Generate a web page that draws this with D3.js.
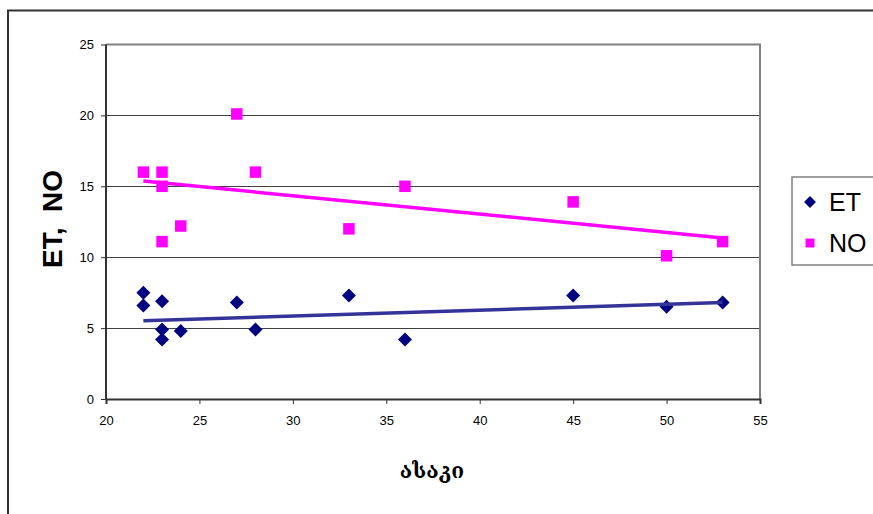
<!DOCTYPE html>
<html>
<head>
<meta charset="utf-8">
<script src="https://cdn.jsdelivr.net/npm/d3@7"></script>
<style>
  html, body { margin: 0; padding: 0; background: #fff; }
  svg { display: block; }
  .tick text { font-family: "Liberation Sans", Arial, sans-serif; font-size: 13px; fill: #000; }
</style>
</head>
<body>
<div id="chart"></div>
<script>
// ET / NO vs age (ასაკი)
const etAge = [22, 22, 23, 23, 23, 24, 27, 28, 33, 36, 45, 50, 53];
const etVal = [7.5, 6.6, 6.9, 4.9, 4.2, 4.8, 6.8, 4.9, 7.3, 4.2, 7.3, 6.5, 6.8];
const noAge = [22, 23, 23, 23, 24, 27, 28, 33, 36, 45, 50, 53];
const noVal = [16, 16, 15, 11.1, 12.2, 20.1, 16, 12, 15, 13.9, 10.1, 11.1];

// linear trend endpoints
const trendAge = [22, 53];
const etTrend = [5.51, 6.81];
const noTrend = [15.37, 11.36];

const xTicks = [20, 25, 30, 35, 40, 45, 50, 55];
const yTicks = [0, 5, 10, 15, 20, 25];

const W = 873, H = 514;
const P = { left: 106, right: 760, top: 44.5, bottom: 399 };

const svg = d3.select('#chart').append('svg').attr('width', W).attr('height', H);

// outer chart frame (runs off the page on the right and bottom)
svg.append('rect').attr('x', 8).attr('y', 10.5).attr('width', 1000).attr('height', 1000)
  .attr('fill', 'none').attr('stroke', '#333').attr('stroke-width', 2);

const x = d3.scaleLinear().domain([20, 55]).range([P.left, P.right]);
const y = d3.scaleLinear().domain([0, 25]).range([P.bottom, P.top]);

// gridlines
svg.append('g').selectAll('line').data(yTicks.filter(d => d > 0 && d < 25)).join('line')
  .attr('x1', P.left).attr('x2', P.right)
  .attr('y1', d => Math.round(y(d)) + 0.5).attr('y2', d => Math.round(y(d)) + 0.5)
  .attr('stroke', '#404040').attr('stroke-width', 1);

// plot area border (top, right)
svg.append('path')
  .attr('d', `M${P.left},${y(25)}H${P.right}V${P.bottom}`)
  .attr('fill', 'none').attr('stroke', '#808080').attr('stroke-width', 2);

// axes
const xAxis = svg.append('g').attr('transform', `translate(0,${P.bottom})`)
  .call(d3.axisBottom(x).tickValues(xTicks).tickSize(5).tickPadding(12));
const yAxis = svg.append('g').attr('transform', `translate(${P.left},0)`)
  .call(d3.axisLeft(y).tickValues(yTicks).tickSize(5).tickPadding(7));
[xAxis, yAxis].forEach(g => {
  g.select('.domain').attr('stroke', '#333').attr('stroke-width', 2);
  g.selectAll('.tick line').attr('stroke', '#333').attr('stroke-width', 1);
  g.attr('font-family', null).attr('font-size', null);
});
yAxis.select('.domain').attr('d', `M0,${P.bottom}V${P.top}`);

// markers
const sq = d3.symbol().type(d3.symbolSquare);
const etData = etAge.map((a, i) => ({ a, v: etVal[i] }));
const noData = noAge.map((a, i) => ({ a, v: noVal[i] }));

svg.append('g').selectAll('path').data(noData).join('path')
  .attr('d', sq.size(132)())
  .attr('transform', d => `translate(${x(d.a)},${y(d.v)})`)
  .attr('fill', '#ff00ff');

svg.append('g').selectAll('path').data(etData).join('path')
  .attr('d', sq.size(98)())
  .attr('transform', d => `translate(${x(d.a)},${y(d.v)}) rotate(45)`)
  .attr('fill', '#000080');

// trend lines
const line = d3.line().x(d => x(d[0])).y(d => y(d[1]));
svg.append('path').datum(trendAge.map((a, i) => [a, noTrend[i]]))
  .attr('d', line).attr('stroke', '#ff00ff').attr('stroke-width', 3.5).attr('fill', 'none');
svg.append('path').datum(trendAge.map((a, i) => [a, etTrend[i]]))
  .attr('d', line).attr('stroke', '#333399').attr('stroke-width', 3.5).attr('fill', 'none');

// axis titles
svg.append('text').attr('x', 432).attr('y', 478).attr('text-anchor', 'middle')
  .style('font-family', '"DejaVu Serif", "DejaVu Sans", serif').style('font-weight', 'bold')
  .style('font-size', '21px').text('ასაკი');

svg.append('text').attr('transform', 'translate(62,219) rotate(-90)').attr('text-anchor', 'middle')
  .style('font-family', '"Liberation Sans", Arial, sans-serif').style('font-weight', 'bold')
  .style('font-size', '28px').attr('xml:space', 'preserve').text('ET,  NO');

// legend
const lg = svg.append('g');
lg.append('rect').attr('x', 792).attr('y', 177).attr('width', 100).attr('height', 88)
  .attr('fill', '#fff').attr('stroke', '#808080').attr('stroke-width', 1.5);
const legendItems = [
  { name: 'ET', color: '#000080', diamond: true },
  { name: 'NO', color: '#ff00ff', diamond: false }
];
const ly = d3.scalePoint().domain(legendItems.map(d => d.name)).range([202, 243]);
const li = lg.selectAll('g').data(legendItems).join('g')
  .attr('transform', d => `translate(0,${ly(d.name)})`);
li.append('path')
  .attr('d', d => sq.size(d.diamond ? 70 : 80)())
  .attr('transform', d => `translate(810,0)${d.diamond ? ' rotate(45)' : ''}`)
  .attr('fill', d => d.color);
li.append('text').attr('x', 829).attr('y', 9)
  .style('font-family', '"Liberation Sans", Arial, sans-serif').style('font-size', '25px')
  .text(d => d.name);
</script>
</body>
</html>
